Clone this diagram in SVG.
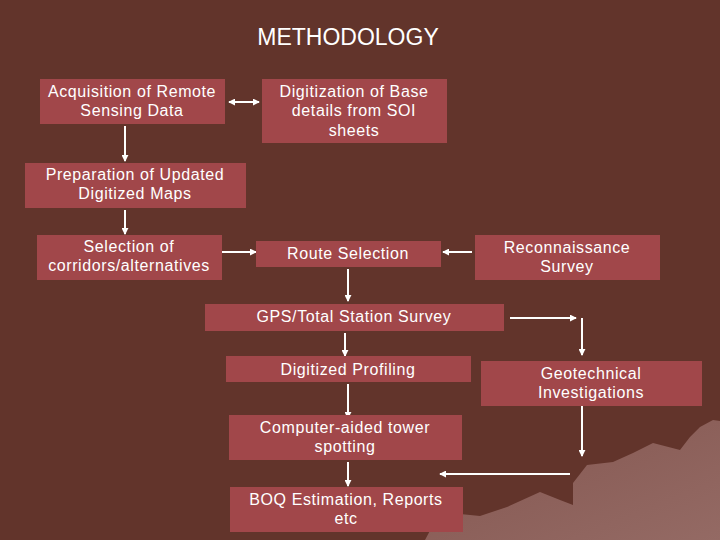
<svg xmlns="http://www.w3.org/2000/svg" width="720" height="540" viewBox="0 0 720 540">
<defs>
<style>
.box{fill:#a1474a;}
.t{font-family:"Liberation Sans",Arial,sans-serif;font-size:16px;fill:#ffffff;text-anchor:middle;letter-spacing:0.6px;}
.c{stroke:#ffffff;stroke-width:2;fill:none;marker-end:url(#ah);}
</style>
<marker id="ah" viewBox="0 0 8 8" refX="7" refY="4" markerWidth="3.5" markerHeight="3.5" orient="auto-start-reverse" markerUnits="strokeWidth">
<path d="M0,0 L8,4 L0,8 Z" fill="#ffffff"/>
</marker>
<linearGradient id="mt" x1="0" y1="0" x2="1" y2="1">
<stop offset="0" stop-color="#845650"/>
<stop offset="1" stop-color="#946a64"/>
</linearGradient>
</defs>
<rect width="720" height="540" fill="#62342b"/>
<path d="M425,540 L440,512 L480,516 L507,507 L540,492 L560,500 L573,505 L573,483 L587,465 L613,462 L633,453 L653,443 L680,450 L690,437 L700,427 L713,420 L720,421 L720,540 Z" fill="url(#mt)"/>
<text x="348" y="45" style="font-family:'Liberation Sans',Arial,sans-serif;font-size:23px;fill:#ffffff;text-anchor:middle;">METHODOLOGY</text>
<g id="connectors">
<line class="c" x1="229" y1="102" x2="259" y2="102" style="marker-start:url(#ah)"/>
<line class="c" x1="125" y1="126" x2="125" y2="161"/>
<line class="c" x1="125" y1="210" x2="125" y2="234"/>
<line class="c" x1="222" y1="252" x2="256" y2="252"/>
<line class="c" x1="472" y1="252" x2="443" y2="252"/>
<line class="c" x1="348" y1="269" x2="348" y2="301"/>
<line class="c" x1="510" y1="318" x2="576" y2="318"/>
<line class="c" x1="582" y1="318" x2="582" y2="355"/>
<line class="c" x1="345" y1="333" x2="345" y2="356"/>
<line class="c" x1="348" y1="384" x2="348" y2="418"/>
<line class="c" x1="582" y1="406" x2="582" y2="456"/>
<line class="c" x1="570" y1="474" x2="440" y2="474"/>
<line class="c" x1="348" y1="462" x2="348" y2="486"/>
</g>
<g id="acquisition"><rect class="box" x="40" y="79" width="185" height="45"/><text class="t" x="132" y="97">Acquisition of Remote</text><text class="t" x="132" y="116">Sensing Data</text></g>
<g id="digitization"><rect class="box" x="262" y="79" width="185" height="64"/><text class="t" x="354" y="97">Digitization of Base</text><text class="t" x="354" y="116">details from SOI</text><text class="t" x="354" y="136">sheets</text></g>
<g id="preparation"><rect class="box" x="25" y="163" width="221" height="45"/><text class="t" x="135" y="180">Preparation of Updated</text><text class="t" x="135" y="199">Digitized Maps</text></g>
<g id="selection"><rect class="box" x="37" y="235" width="185" height="45"/><text class="t" x="129" y="252">Selection of</text><text class="t" x="129" y="271">corridors/alternatives</text></g>
<g id="route"><rect class="box" x="256" y="241" width="185" height="26"/><text class="t" x="348" y="259">Route Selection</text></g>
<g id="reconnaissance"><rect class="box" x="475" y="235" width="185" height="45"/><text class="t" x="567" y="253">Reconnaissance</text><text class="t" x="567" y="272">Survey</text></g>
<g id="gps"><rect class="box" x="205" y="304" width="299" height="27"/><text class="t" x="354" y="322">GPS/Total Station Survey</text></g>
<g id="profiling"><rect class="box" x="226" y="356" width="245" height="26"/><text class="t" x="348" y="375">Digitized Profiling</text></g>
<g id="geotechnical"><rect class="box" x="481" y="361" width="221" height="45"/><text class="t" x="591" y="379">Geotechnical</text><text class="t" x="591" y="398">Investigations</text></g>
<g id="computer"><rect class="box" x="229" y="415" width="233" height="45"/><text class="t" x="345" y="433">Computer-aided tower</text><text class="t" x="345" y="452">spotting</text></g>
<g id="boq"><rect class="box" x="230" y="487" width="233" height="45"/><text class="t" x="346" y="505">BOQ Estimation, Reports</text><text class="t" x="346" y="524">etc</text></g>
</svg>
